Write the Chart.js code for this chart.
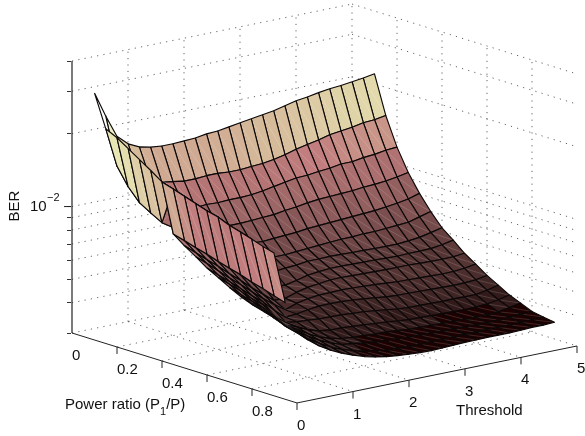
<!DOCTYPE html>
<html>
<head>
<meta charset="utf-8">
<style>
  html, body { margin: 0; padding: 0; background: #fff; }
  canvas { display: block; }
</style>
<script src="https://cdn.jsdelivr.net/npm/chart.js@4"></script>
</head>
<body>
<canvas id="berChart" width="585" height="436"></canvas>
<script>
// BER against power ratio and threshold, drawn as a 3D surface on a scatter chart

const powerRatios = [0.1, 0.15, 0.2, 0.25, 0.3, 0.35, 0.4, 0.45, 0.5, 0.55, 0.6, 0.65, 0.7, 0.75, 0.8, 0.85, 0.9];
const thresholds = [0, 0.2, 0.4, 0.6, 0.8, 1, 1.2, 1.4, 1.6, 1.8, 2, 2.2, 2.4, 2.6, 2.8, 3, 3.2, 3.4, 3.6, 3.8, 4, 4.2, 4.4, 4.6, 4.8, 5];

// BER x 1000, one list per power ratio, one value per threshold
const ber10 = [31.5, 24.8, 20.0, 18.2, 17.3, 16.9, 16.7, 16.7, 16.8, 16.9, 17.2, 17.3, 17.6, 17.9, 18.2, 18.5, 18.8, 19.3, 19.8, 20.1, 20.5, 20.8, 21.0, 21.3, 21.6, 22.0];
const ber15 = [23.2, 15.9, 14.6, 13.8, 13.0, 12.5, 12.3, 12.1, 12.1, 12.2, 12.2, 12.1, 12.1, 12.2, 12.3, 12.5, 12.8, 13.2, 13.5, 13.8, 14.2, 14.4, 14.6, 14.9, 15.0, 15.3];
const ber20 = [22.0, 13.5, 12.5, 11.6, 11.0, 10.4, 10.0, 9.7, 9.8, 9.75, 9.8, 9.8, 9.85, 10.0, 10.2, 10.4, 10.6, 10.65, 10.8, 10.9, 11.1, 11.1, 11.3, 11.4, 11.6, 11.7];
const ber25 = [20.5, 12.0, 11.1, 10.35, 9.75, 9.25, 8.8, 8.45, 8.2, 8.1, 8.1, 8.15, 8.2, 8.25, 8.4, 8.5, 8.65, 8.75, 8.8, 8.85, 8.9, 9.0, 9.05, 9.15, 9.3, 9.5];
const ber30 = [19.1, 11.25, 10.4, 9.7, 9.15, 8.65, 8.2, 7.8, 7.4, 7.15, 6.95, 6.9, 6.95, 7.0, 7.05, 7.15, 7.2, 7.25, 7.3, 7.35, 7.4, 7.45, 7.55, 7.65, 7.8, 8.05];
const ber35 = [17.8, 10.6, 9.9, 9.2, 8.6, 8.1, 7.65, 7.2, 6.85, 6.55, 6.3, 6.15, 6.15, 6.2, 6.25, 6.3, 6.35, 6.4, 6.4, 6.45, 6.45, 6.5, 6.55, 6.6, 6.8, 7.0];
const ber40 = [16.5, 15.1, 13.8, 12.6, 11.5, 10.6, 9.6, 8.8, 8.05, 6.3, 5.65, 5.72, 5.76, 5.85, 5.85, 5.87, 5.85, 5.83, 5.82, 5.8, 5.79, 5.79, 5.84, 5.91, 6.05, 6.2];
const ber45 = [10.4, 9.55, 8.75, 8.05, 7.35, 6.75, 6.2, 5.65, 5.34, 5.2, 5.14, 5.26, 5.41, 5.48, 5.52, 5.53, 5.51, 5.5, 5.49, 5.47, 5.45, 5.47, 5.48, 5.49, 5.57, 5.7];
const ber50 = [9.6, 8.8, 8.05, 7.4, 6.75, 6.2, 5.65, 5.2, 4.8, 4.79, 4.96, 5.09, 5.16, 5.23, 5.24, 5.22, 5.21, 5.19, 5.18, 5.17, 5.18, 5.15, 5.14, 5.13, 5.14, 5.2];
const ber55 = [8.95, 8.2, 7.5, 6.85, 6.3, 5.75, 5.28, 4.88, 4.54, 4.72, 4.83, 4.89, 4.9, 4.92, 4.9, 4.88, 4.85, 4.81, 4.77, 4.76, 4.74, 4.73, 4.71, 4.72, 4.76, 4.85];
const ber60 = [8.3, 7.6, 7.0, 6.4, 5.85, 5.4, 4.88, 4.47, 4.51, 4.59, 4.65, 4.66, 4.65, 4.62, 4.57, 4.52, 4.46, 4.43, 4.42, 4.41, 4.39, 4.38, 4.37, 4.38, 4.41, 4.5];
const ber65 = [7.85, 7.2, 6.6, 6.0, 5.55, 4.87, 4.5, 4.42, 4.39, 4.35, 4.34, 4.33, 4.3, 4.27, 4.22, 4.17, 4.11, 4.08, 4.07, 4.06, 4.05, 4.06, 4.05, 4.05, 4.13, 4.24];
const ber70 = [7.38, 6.75, 6.2, 5.7, 5.09, 4.62, 4.46, 4.24, 4.1, 4.05, 4.04, 4.01, 3.98, 3.95, 3.92, 3.87, 3.84, 3.83, 3.82, 3.81, 3.8, 3.79, 3.8, 3.83, 3.9, 3.99];
const ber75 = [7.0, 6.4, 5.9, 5.33, 4.89, 4.6, 4.31, 4.09, 3.95, 3.86, 3.82, 3.8, 3.77, 3.77, 3.73, 3.7, 3.69, 3.68, 3.67, 3.66, 3.65, 3.64, 3.65, 3.67, 3.74, 3.82];
const ber80 = [6.71, 6.2, 5.75, 5.14, 4.78, 4.44, 4.19, 4.0, 3.85, 3.8, 3.74, 3.7, 3.67, 3.65, 3.63, 3.62, 3.61, 3.6, 3.6, 3.59, 3.58, 3.58, 3.59, 3.6, 3.64, 3.65];
const ber85 = [6.5, 6.0, 5.4, 4.99, 4.58, 4.3, 4.06, 3.88, 3.76, 3.65, 3.6, 3.53, 3.52, 3.51, 3.5, 3.51, 3.51, 3.52, 3.53, 3.53, 3.54, 3.53, 3.54, 3.55, 3.56, 3.58];
const ber90 = [6.3, 5.69, 5.24, 4.79, 4.43, 4.16, 3.96, 3.8, 3.67, 3.58, 3.51, 3.47, 3.44, 3.42, 3.41, 3.42, 3.44, 3.45, 3.46, 3.47, 3.47, 3.47, 3.48, 3.5, 3.5, 3.52];
const berRows = [ber10, ber15, ber20, ber25, ber30, ber35, ber40, ber45, ber50, ber55, ber60, ber65, ber70, ber75, ber80, ber85, ber90];

// raised strip between power ratio 0.4 and 0.45, thresholds 0 to 2
const stripTopBer = [16.5, 15.1, 13.8, 12.6, 11.5, 10.6, 9.6, 8.8, 8.05, 7.35, 6.75];
const stripBottomBer = [10.4, 9.55, 8.75, 8.05, 7.35, 6.75, 6.2, 5.65, 5.2, 4.75, 4.35];
// its colour values, they do not follow its height
const stripColourBer = [16.5, 14.6, 13.4, 13, 13, 13, 13.2, 13.4, 13.6, 14];

const powerTicks = [0, 0.2, 0.4, 0.6, 0.8];
const powerTickLabels = ['0', '0.2', '0.4', '0.6', '0.8'];
const thresholdTicks = [0, 1, 2, 3, 4, 5];
const thresholdTickLabels = ['0', '1', '2', '3', '4', '5'];
const berTicks = [0.003, 0.004, 0.005, 0.006, 0.007, 0.008, 0.009, 0.01, 0.02, 0.03, 0.04];

// view of the box: shift per unit of power ratio and threshold
const PX_PER_POWER = 225;
const PX_PER_THRESHOLD = 56;
const DECADE_PER_POWER = 70 / 242;
const DECADE_PER_THRESHOLD = 11.4 / 242;
const BER_FLOOR = 0.003;
const BER_TOP = 0.04;
const LEFT_EDGE = 72;

function project(power, threshold, ber) {
    return {
        x: LEFT_EDGE + PX_PER_POWER * power + PX_PER_THRESHOLD * threshold,
        y: ber * Math.pow(10, DECADE_PER_THRESHOLD * threshold - DECADE_PER_POWER * power)
    };
}

// pink colormap, 64 steps
function pink(n) {
    const gray = n / 63;
    const r = Math.min(1, (n + 1) / 24);
    const g = Math.min(1, Math.max(0, (n - 23) / 24));
    const b = Math.min(1, Math.max(0, (n - 47) / 16));
    const mix = c => Math.round(255 * Math.sqrt((2 * gray + c) / 3));
    return `rgb(${mix(r)},${mix(g)},${mix(b)})`;
}

function colourFor(berThousand) {
    const n = Math.floor((berThousand - 3.4) / 26.6 * 63);
    return pink(Math.min(63, Math.max(0, n)));
}

const gridStyle = {
    showLine: true, pointRadius: 0, borderColor: '#555', borderWidth: 0.9,
    borderDash: [1.2, 5.2], clip: false, tension: 0
};
const axisStyle = { showLine: true, pointRadius: 0, borderColor: '#222', borderWidth: 1, clip: false, tension: 0 };

const painted = [];

function gridLine(from, to) {
    painted.push({ ...gridStyle, data: [from, to] });
}

function addCell(a, b, c, d, colourBer) {
    painted.push({
        showLine: true, pointRadius: 0, clip: false, tension: 0,
        borderColor: '#0c0808', borderWidth: 1.15, borderJoinStyle: 'round',
        cellColor: colourFor(colourBer),
        data: [a, b, c, d, a]
    });
}

// back walls
berTicks.forEach(b => {
    gridLine(project(0, 0, b), project(0, 5, b));
    gridLine(project(0, 5, b), project(1, 5, b));
});
[1, 2, 3, 4, 5].forEach(t => gridLine(project(0, t, BER_FLOOR), project(0, t, BER_TOP)));
[0.2, 0.4, 0.6, 0.8].forEach(p => gridLine(project(p, 5, BER_FLOOR), project(p, 5, BER_TOP)));
// floor
[1, 2, 3, 4].forEach(t => gridLine(project(0, t, BER_FLOOR), project(1, t, BER_FLOOR)));
[0.2, 0.4, 0.6, 0.8].forEach(p => gridLine(project(p, 0, BER_FLOOR), project(p, 5, BER_FLOOR)));

// surface, far cells first
for (let i = 0; i < powerRatios.length - 1; i++) {
    for (let j = thresholds.length - 2; j >= 0; j--) {
        const corner = (r, c) => project(powerRatios[r], thresholds[c], berRows[r][c] / 1000);
        addCell(corner(i, j), corner(i, j + 1), corner(i + 1, j + 1), corner(i + 1, j), berRows[i][j]);
    }
}

// raised strip goes over the rows that run behind it
for (let j = stripColourBer.length - 1; j >= 0; j--) {
    addCell(
        project(0.4, thresholds[j], stripTopBer[j] / 1000),
        project(0.4, thresholds[j + 1], stripTopBer[j + 1] / 1000),
        project(0.45, thresholds[j + 1], stripBottomBer[j + 1] / 1000),
        project(0.45, thresholds[j], stripBottomBer[j] / 1000),
        stripColourBer[j]
    );
}

// floor axes
painted.push({ ...axisStyle, data: [project(0, 0, BER_FLOOR), project(1, 0, BER_FLOOR), project(1, 5, BER_FLOOR)] });
painted.push({ ...axisStyle, borderWidth: 1.3, borderColor: '#333', data: [project(0, 0, BER_FLOOR), project(0, 0, BER_TOP)] });

// fills the cell and strokes its diagonal seam before the dataset's own line
const cellFillPlugin = {
    id: 'cellFill',
    beforeDatasetDraw(chart, args) {
        const ds = chart.data.datasets[args.index];
        if (!ds.cellColor) return;
        const pts = args.meta.data;
        const ctx = chart.ctx;
        ctx.save();
        ctx.fillStyle = ds.cellColor;
        ctx.beginPath();
        ctx.moveTo(pts[0].x, pts[0].y);
        for (let k = 1; k < 4; k++) ctx.lineTo(pts[k].x, pts[k].y);
        ctx.closePath();
        ctx.fill();
        ctx.strokeStyle = 'rgba(255,255,255,0.25)';
        ctx.lineWidth = 0.6;
        ctx.beginPath();
        ctx.moveTo(pts[0].x, pts[0].y);
        ctx.lineTo(pts[2].x, pts[2].y);
        ctx.stroke();
        ctx.restore();
    }
};

// tick labels and titles
const textPlugin = {
    id: 'boxText',
    afterDraw(chart) {
        const ctx = chart.ctx;
        const xs = chart.scales.x, ys = chart.scales.y;
        const px = pt => ({ x: xs.getPixelForValue(pt.x), y: ys.getPixelForValue(pt.y) });
        ctx.save();
        ctx.fillStyle = '#111';
        ctx.strokeStyle = '#222';
        ctx.lineWidth = 1;
        ctx.font = '15px "Liberation Sans"';
        ctx.textAlign = 'left';
        ctx.textBaseline = 'alphabetic';

        powerTicks.forEach((p, k) => {
            const at = px(project(p, 0, BER_FLOOR));
            if (p > 0) tick(ctx, at);
            ctx.fillText(powerTickLabels[k], at.x, at.y + 27);
        });
        thresholdTicks.forEach((t, k) => {
            const at = px(project(1, t, BER_FLOOR));
            tick(ctx, at);
            ctx.fillText(thresholdTickLabels[k], at.x, at.y + 27);
        });

        ctx.fillText('Power ratio (P', 65, 409);
        const w = ctx.measureText('Power ratio (P').width;
        ctx.font = '11px "Liberation Sans"';
        ctx.fillText('1', 65 + w, 415);
        const subW = ctx.measureText('1').width;
        ctx.font = '15px "Liberation Sans"';
        ctx.fillText('/P)', 65 + w + subW, 409);
        ctx.fillText('Threshold', 456, 415);

        // 10^-2 on the BER axis
        const ten = ys.getPixelForValue(0.01);
        ctx.beginPath();
        ctx.moveTo(64, ten);
        ctx.lineTo(71, ten);
        ctx.stroke();
        ctx.fillText('10', 30, ten + 4);
        ctx.font = '11px "Liberation Sans"';
        ctx.fillText('\u22122', 47, ten - 6);

        ctx.font = '15px "Liberation Sans"';
        ctx.translate(19, 206);
        ctx.rotate(-Math.PI / 2);
        ctx.textAlign = 'center';
        ctx.fillText('BER', 0, 0);
        ctx.restore();
    }
};

function tick(ctx, at) {
    ctx.beginPath();
    ctx.moveTo(at.x, at.y);
    ctx.lineTo(at.x, at.y + 7);
    ctx.stroke();
}

new Chart(document.getElementById('berChart'), {
    type: 'scatter',
    // Chart.js paints the first dataset last
    data: { datasets: painted.reverse() },
    plugins: [cellFillPlugin, textPlugin],
    options: {
        responsive: false,
        animation: false,
        events: [],
        layout: { autoPadding: false, padding: { top: 61, bottom: 103, left: 0, right: 0 } },
        plugins: { legend: { display: false }, tooltip: { enabled: false } },
        scales: {
            x: { type: 'linear', min: 71, max: 585, display: false },
            y: {
                type: 'logarithmic',
                min: BER_FLOOR,
                max: BER_TOP,
                position: 'left',
                afterBuildTicks(scale) {
                    scale.ticks = berTicks.map(v => ({ value: v }));
                },
                afterFit(scale) {
                    scale.width = 71;
                },
                border: { display: false },
                grid: { drawOnChartArea: false, drawTicks: true, tickLength: 4, color: '#333' },
                ticks: { display: false }
            }
        }
    }
});
</script>
</body>
</html>
